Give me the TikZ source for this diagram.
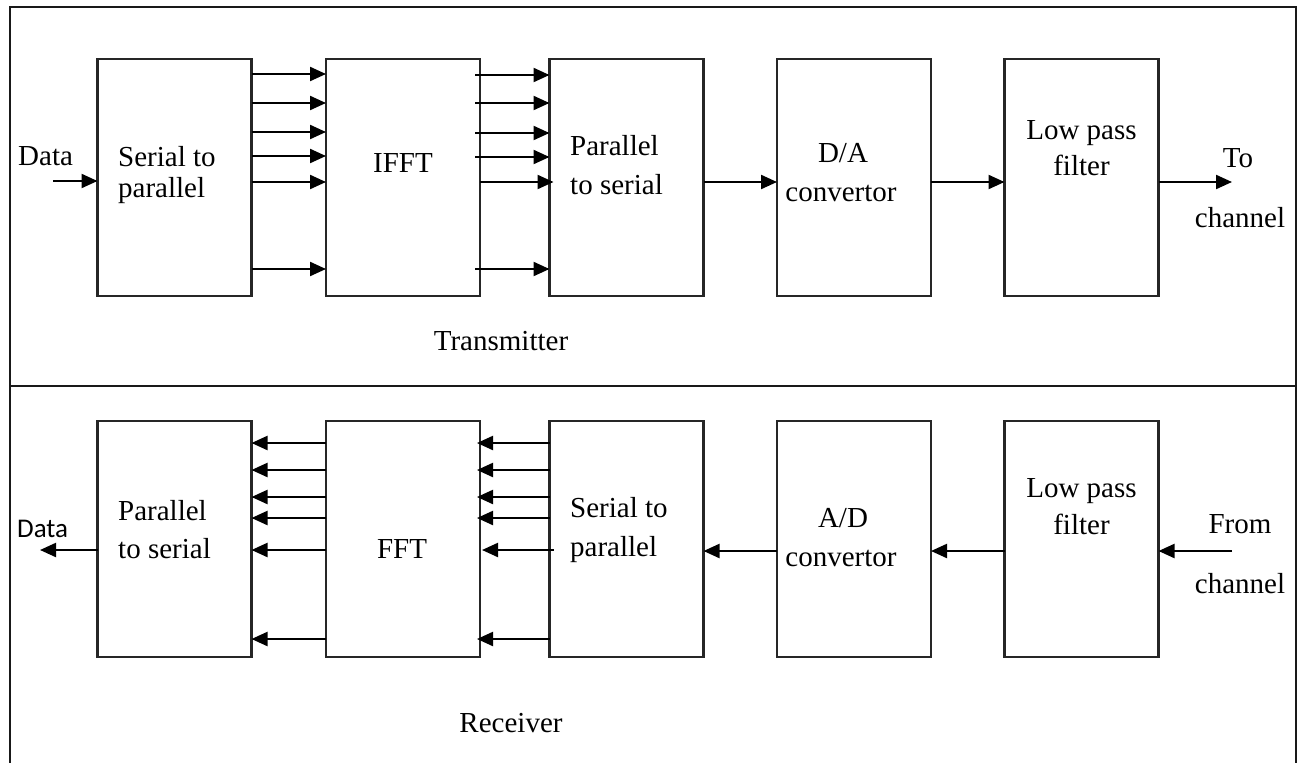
\documentclass[tikz,border=0pt]{standalone}
\usepackage{fontspec}
\setmainfont{Liberation Serif}
\newfontfamily\labelsans{Carlito}
\usetikzlibrary{arrows.meta}
\begin{document}
\begin{tikzpicture}[x=1pt,y=-1pt,
  font=\fontsize{29}{31}\selectfont,
  blockbox/.style={draw=black!85, line width=2.2pt, inner sep=0pt, outer sep=0pt,
    minimum width=154pt},
  txrow/.style={blockbox, minimum height=237pt},
  rxrow/.style={blockbox, minimum height=236pt},
  txt/.style={inner sep=0pt, anchor=base west},
  ctxt/.style={inner sep=0pt, anchor=base},
  arr/.style={line width=2.2pt, -{Triangle[length=16pt,width=14pt]}},
  frameline/.style={line width=2.2pt, draw=black!90}]
\useasboundingbox (0,0) rectangle (1299,763);

% outer frame and the line between the two halves
\coordinate (fa) at (10,763);
\coordinate (fb) at (10,7);
\coordinate (fc) at (1296,7);
\coordinate (fd) at (1296,763);
\draw[frameline] (fa) -- (fb) -- (fc) -- (fd);
\draw[frameline] (10,386) -- (1296,386);

% ---------------- transmitter ----------------
\node[txrow] (sp)   at (174.5,177.5) {};
\node[txrow] (ifft) at (403,177.5)   {};
\node[txrow] (ps)   at (626.5,177.5) {};
\node[txrow] (da)   at (854,177.5)   {};
\node[txrow] (lpf)  at (1081.5,177.5) {};

\node[txt] (tdata) at (18,165) {Data};
\node[txt] (sp1) at (118,166) {Serial to};
\node[txt] (sp2) at (118,197) {parallel};
\node[ctxt] (ifftl) at (403,172) {IFFT};
\node[txt] (ps1) at (570,155) {Parallel};
\node[txt] (ps2) at (570,194) {to serial};
\node[ctxt] (da1) at (843,162) {D/A};
\node[ctxt] (da2) at (841,201) {convertor};
\node[ctxt] (lpf1) at (1081.5,139) {Low pass};
\node[ctxt] (lpf2) at (1081.5,175) {filter};
\node[ctxt] (to1) at (1238,167) {To};
\node[ctxt] (to2) at (1240,227) {channel};
\node[ctxt] (tx) at (501,350) {Transmitter};

\coordinate (din) at (53,181);
\coordinate (tout) at (1232,182);
\draw[arr] (din) -- (sp.west |- din);
\foreach \yy in {74,103,132,156,182,269}
  \draw[arr] (sp.east |- 0,\yy) -- (ifft.west |- 0,\yy);
\foreach \yy in {75,103,133,157,269}
  \draw[arr] ([xshift=-5pt]ifft.east |- 0,\yy) -- (ps.west |- 0,\yy);
\draw[arr] (ifft.east |- 0,182) -- ([xshift=4pt]ps.west |- 0,182);
\draw[arr] (ps.east |- 0,182) -- (da.west |- 0,182);
\draw[arr] (da.east |- 0,182) -- (lpf.west |- 0,182);
\draw[arr] (lpf.east |- tout) -- (tout);

% ---------------- receiver ----------------
\node[rxrow] (rps)  at (174.5,539) {};
\node[rxrow] (fft)  at (403,539)   {};
\node[rxrow] (rsp)  at (626.5,539) {};
\node[rxrow] (ad)   at (854,539)   {};
\node[rxrow] (rlpf) at (1081.5,539) {};

\node[txt, font=\labelsans\fontsize{27}{30}\selectfont] (rdata) at (17,537) {Data};
\node[txt] (rps1) at (118,520) {Parallel};
\node[txt] (rps2) at (118,558) {to serial};
\node[ctxt] (fftl) at (402,558) {FFT};
\node[txt] (rsp1) at (570,517) {Serial to};
\node[txt] (rsp2) at (570,556) {parallel};
\node[ctxt] (ad1) at (843,527) {A/D};
\node[ctxt] (ad2) at (841,566) {convertor};
\node[ctxt] (rlpf1) at (1081.5,497) {Low pass};
\node[ctxt] (rlpf2) at (1081.5,534) {filter};
\node[ctxt] (from1) at (1240,533) {From};
\node[ctxt] (from2) at (1240,593) {channel};
\node[ctxt] (rx) at (511,732) {Receiver};

\coordinate (fin) at (1232,551);
\coordinate (dout) at (40,550);
\draw[arr] (fin) -- (rlpf.east |- fin);
\draw[arr] (rlpf.west |- 0,551) -- (ad.east |- 0,551);
\draw[arr] (ad.west |- 0,551) -- (rsp.east |- 0,551);
\foreach \yy in {443,470,497,518,639}
  \draw[arr] (rsp.west |- 0,\yy) -- ([xshift=-3pt]fft.east |- 0,\yy);
\draw[arr] ([xshift=4pt]rsp.west |- 0,550) -- ([xshift=2pt]fft.east |- 0,550);
\foreach \yy in {443,470,497,518,550,639}
  \draw[arr] (fft.west |- 0,\yy) -- (rps.east |- 0,\yy);
\draw[arr] (rps.west |- dout) -- (dout);
\end{tikzpicture}
\end{document}
